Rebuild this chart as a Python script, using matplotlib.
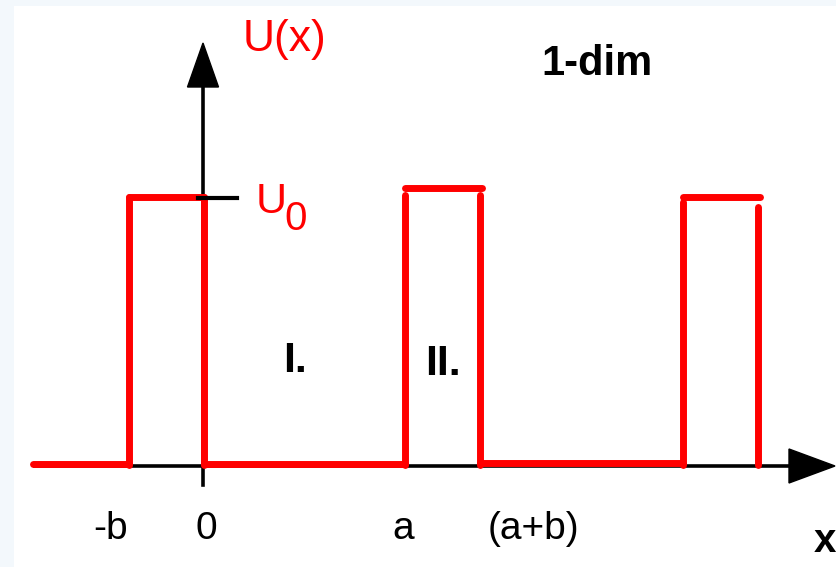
"""Kronig-Penney style periodic square-well potential U(x) in one dimension.

Generates ``out.png``.
"""

import matplotlib.pyplot as plt
from matplotlib.patches import Rectangle

# barrier geometry (x measured from the origin, y from the baseline)
BARRIER_LEFT = [-75, 201, 479]
BARRIER_RIGHT = [0, 276, 554]
BARRIER_TOP = [268, 277, 268]
WALL_TOP_LEFT = [268, 270, 263]
WALL_TOP_RIGHT = [268, 270, 258]
TOP_RIGHT_END = [0, 278, 556]

# flat parts of the potential (U = 0) between the barriers
WELL_START = [-171, 0, 276]
WELL_END = [-75, 201, 479]
WELL_LEVEL = [1, 1, 2]

# labels on the x axis
X_TICK_POS = [-93, 2, 199, 329]
X_TICK_TEXT = ["-b", "0", "a", "(a+b)"]

RED = "#ff0000"
FONT = "Liberation Sans"


def main() -> None:
    plt.rcParams["font.family"] = [FONT, "DejaVu Sans"]
    fig = plt.figure(figsize=(8.37, 5.67), dpi=100, facecolor="#f3f8fc")
    ax = fig.add_axes([0, 0, 1, 1])
    ax.set_xlim(-204, 633)
    ax.set_ylim(-102, 465)
    ax.axis("off")
    ax.add_patch(Rectangle((14 / 837, 0), 1, 561 / 567, transform=fig.transFigure,
                           facecolor="white", edgecolor="none", zorder=0, clip_on=False))

    # axes with arrow heads
    ax.plot([-169, 590], [-1, -1], color="black", lw=2.6, zorder=1)
    ax.arrow(580, -1, 51, 0, width=0.5, head_width=34, head_length=46,
             length_includes_head=True, color="black", zorder=1)
    ax.plot([-1, -1], [-20, 385], color="black", lw=2.6, zorder=1)
    ax.arrow(-1, 375, 0, 47, width=0.5, head_width=31, head_length=44,
             length_includes_head=True, color="black", zorder=1)
    ax.plot([-6, 33], [267, 267], color="black", lw=3, zorder=3)

    # potential
    kw = dict(color=RED, lw=5, solid_capstyle="round", zorder=2)
    for x0, x1, lvl in zip(WELL_START, WELL_END, WELL_LEVEL):
        ax.plot([x0, x1], [lvl, lvl], **kw)
    for xl, xr, top, tl, tr, xe in zip(BARRIER_LEFT, BARRIER_RIGHT, BARRIER_TOP,
                                       WALL_TOP_LEFT, WALL_TOP_RIGHT, TOP_RIGHT_END):
        ax.plot([xl, xl], [0, tl], **kw)
        ax.plot([xr, xr], [0, tr], **kw)
        ax.plot([xl, xe], [top, top], **kw)

    # labels
    ax.text(39, 414, "U(x)", color=RED, fontsize=32, ha="left", va="baseline")
    ax.text(52, 252, "U", color=RED, fontsize=31, ha="left", va="baseline")
    ax.text(80, 235, "0", color=RED, fontsize=29, ha="left", va="baseline")
    ax.text(337, 390, "1-dim", fontsize=30, fontweight="bold", ha="left", va="baseline")
    ax.text(79, 93, "I.", fontsize=31, fontweight="bold", ha="left", va="baseline")
    ax.text(221, 90, "II.", fontsize=31, fontweight="bold", ha="left", va="baseline")
    for pos, txt in zip(X_TICK_POS, X_TICK_TEXT):
        ax.text(pos, -74, txt, fontsize=28, ha="center", va="baseline")
    ax.text(621, -87, "x", fontsize=29, fontweight="bold", ha="center", va="baseline")

    fig.savefig("out.png", dpi=100, facecolor=fig.get_facecolor())
    plt.close(fig)


if __name__ == "__main__":
    main()
